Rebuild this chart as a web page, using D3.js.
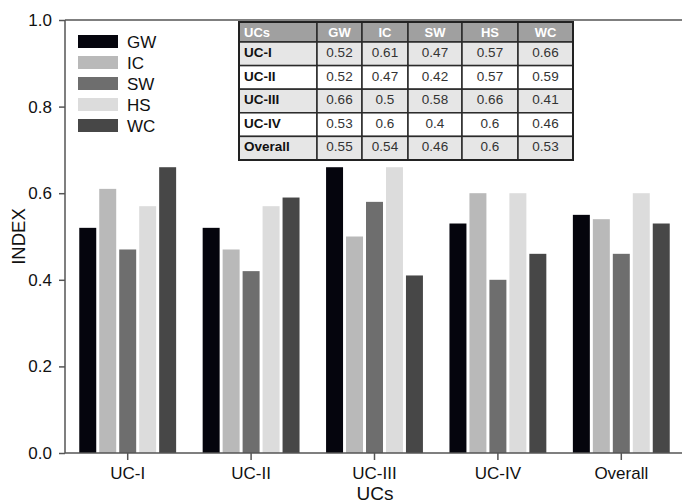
<!DOCTYPE html>
<meta charset="utf-8">
<style>
body { margin: 0; background: #fff; }
svg { font-family: "Liberation Sans", Arial, sans-serif; }
.axis path, .axis line { stroke: #555; stroke-width: 1.5px; }
.axis text { fill: #111; font-size: 17px; }
</style>
<body>
<script src="https://d3js.org/d3.v7.min.js"></script>
<script>

// categories and series
var categories = ["UC-I", "UC-II", "UC-III", "UC-IV", "Overall"];
var series = ["GW", "IC", "SW", "HS", "WC"];
var colors = ["#05050d", "#b9b9b9", "#6e6e6e", "#dcdcdc", "#474747"];

// values per series (one per category)
var GW = [0.52, 0.52, 0.66, 0.53, 0.55];
var IC = [0.61, 0.47, 0.5, 0.6, 0.54];
var SW = [0.47, 0.42, 0.58, 0.4, 0.46];
var HS = [0.57, 0.57, 0.66, 0.6, 0.6];
var WC = [0.66, 0.59, 0.41, 0.46, 0.53];

var yTicks = [0, 0.2, 0.4, 0.6, 0.8, 1.0];

var values = {GW: GW, IC: IC, SW: SW, HS: HS, WC: WC};

var W = 682, H = 503;
// plot box (note: "top" is reserved on window, so use mTop)
var mLeft = 66, mRight = 683, mTop = 20, mBottom = 453;

var svg = d3.select("body").append("svg")
    .attr("width", W)
    .attr("height", H);

var x0 = d3.scaleBand().domain(categories).range([mLeft, mRight])
    .paddingInner(0.215).paddingOuter(0.1075);
var x1 = d3.scaleBand().domain(series).range([0, x0.bandwidth()])
    .paddingInner(0.15);
var y = d3.scaleLinear().domain([0, 1]).range([mBottom, mTop]);
var color = d3.scaleOrdinal().domain(series).range(colors);

// top frame line
svg.append("line")
    .attr("x1", mLeft - 1).attr("x2", W)
    .attr("y1", y(1)).attr("y2", y(1))
    .attr("stroke", "#555").attr("stroke-width", 1.5);

// bars
var groups = svg.selectAll(".grp")
    .data(categories)
  .enter().append("g")
    .attr("transform", function(d) { return "translate(" + x0(d) + ",0)"; });

groups.selectAll("rect")
    .data(function(c, i) { return series.map(function(s) { return {s: s, v: values[s][i]}; }); })
  .enter().append("rect")
    .attr("x", function(d) { return x1(d.s); })
    .attr("width", x1.bandwidth())
    .attr("y", function(d) { return y(d.v); })
    .attr("height", function(d) { return y(0) - y(d.v); })
    .attr("fill", function(d) { return color(d.s); });

// axes
svg.append("g")
    .attr("class", "axis")
    .attr("transform", "translate(" + (mLeft - 1) + ",0)")
    .call(d3.axisLeft(y).tickValues(yTicks).tickFormat(d3.format(".1f")).tickSize(6).tickPadding(7))
    .call(function(g) { g.select(".domain").attr("d", "M0," + y(0) + "V" + y(1)); });

svg.append("g")
    .attr("class", "axis")
    .attr("transform", "translate(0," + mBottom + ")")
    .call(d3.axisBottom(x0).tickSize(7).tickPadding(7))
    .call(function(g) { g.select(".domain").attr("d", "M" + (mLeft - 1) + ",0H" + W); });

// axis titles
svg.append("text")
    .attr("x", 375).attr("y", 500)
    .attr("text-anchor", "middle")
    .attr("font-size", 19).attr("fill", "#111")
    .text("UCs");

svg.append("text")
    .attr("transform", "translate(25," + ((mTop + mBottom) / 2) + ") rotate(-90)")
    .attr("text-anchor", "middle")
    .attr("font-size", 18.5).attr("fill", "#111")
    .text("INDEX");

// legend
var legend = svg.selectAll(".leg")
    .data(series)
  .enter().append("g")
    .attr("transform", function(d, i) { return "translate(78," + (35 + i * 21) + ")"; });

legend.append("rect")
    .attr("width", 40).attr("height", 13)
    .attr("fill", function(d) { return color(d); });

legend.append("text")
    .attr("x", 49).attr("y", 13)
    .attr("font-size", 17).attr("fill", "#111")
    .text(function(d) { return d; });

// data table
var colW = [78, 45, 46, 54, 56, 55];
var colX = [239];
colW.forEach(function(w, i) { colX.push(colX[i] + w); });
var headH = 20, rowH = 23.6, tTop = 22;
var rowY = function(i) { return tTop + headH + i * rowH; };

var table = svg.append("g");

// header
table.selectAll(".hcell")
    .data(["UCs"].concat(series))
  .enter().append("rect")
    .attr("x", function(d, i) { return colX[i]; })
    .attr("y", tTop)
    .attr("width", function(d, i) { return colW[i]; })
    .attr("height", headH)
    .attr("fill", "#a0a0a0")
    .attr("stroke", "#2a2a2a").attr("stroke-width", 1.5);

table.selectAll(".htext")
    .data(["UCs"].concat(series))
  .enter().append("text")
    .attr("x", function(d, i) { return i === 0 ? colX[0] + 5 : colX[i] + colW[i] / 2; })
    .attr("y", tTop + 15)
    .attr("text-anchor", function(d, i) { return i === 0 ? "start" : "middle"; })
    .attr("font-size", 13).attr("font-weight", "bold").attr("fill", "#fff")
    .text(function(d) { return d; });

categories.forEach(function(c, r) {
  var cells = [c].concat(series.map(function(s) { return values[s][r]; }));
  var row = table.append("g");
  row.selectAll("rect")
      .data(cells)
    .enter().append("rect")
      .attr("x", function(d, i) { return colX[i]; })
      .attr("y", rowY(r))
      .attr("width", function(d, i) { return colW[i]; })
      .attr("height", rowH)
      .attr("fill", r % 2 === 0 ? "#e6e6e6" : "#fff")
      .attr("stroke", "#2a2a2a").attr("stroke-width", 1.5);
  row.selectAll("text")
      .data(cells)
    .enter().append("text")
      .attr("x", function(d, i) { return i === 0 ? colX[0] + 5 : colX[i] + colW[i] / 2; })
      .attr("y", rowY(r) + 15)
      .attr("text-anchor", function(d, i) { return i === 0 ? "start" : "middle"; })
      .attr("font-size", 13.5)
      .attr("font-weight", function(d, i) { return i === 0 ? "bold" : "normal"; })
      .attr("fill", function(d, i) { return i === 0 ? "#111" : "#333"; })
      .text(function(d) { return d; });
});

// outer table border
table.append("rect")
    .attr("x", colX[0]).attr("y", tTop)
    .attr("width", colX[colX.length - 1] - colX[0])
    .attr("height", rowY(categories.length) - tTop)
    .attr("fill", "none")
    .attr("stroke", "#222").attr("stroke-width", 2);

</script>
</body>
